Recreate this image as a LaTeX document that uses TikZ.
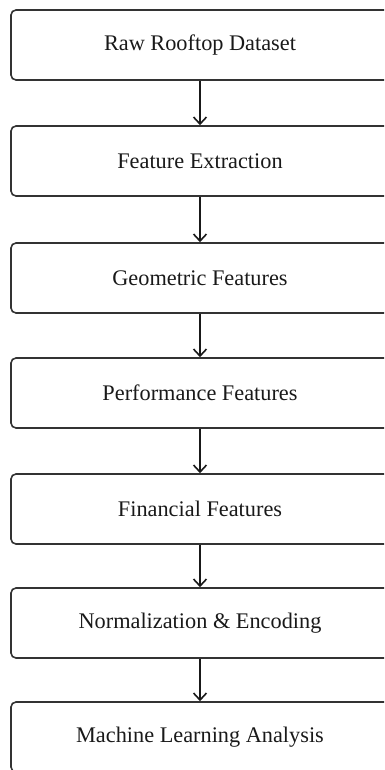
\documentclass[tikz,border=0pt]{standalone}
\usepackage{fontspec}
\setmainfont{Liberation Serif}
\usetikzlibrary{arrows.meta}
\begin{document}
\begin{tikzpicture}[x=1pt,y=-1pt,
  stage/.style={draw=black!80, line width=1.6pt, rounded corners=5pt, minimum width=378pt, minimum height=70pt, inner sep=0pt, text=black!90, font=\fontsize{22.3}{26}\selectfont},
  flow/.style={draw=black!90, line width=1.6pt, -{Straight Barb[length=7pt,width=13pt,line width=1.6pt]}}]
\useasboundingbox (0,0) rectangle (384,770);
\clip (0,0) rectangle (384,770);
\node[stage] (n1) at (200,45) {Raw Rooftop Dataset};
\node[stage] (n2) at (200,161) {Feature Extraction};
\node[stage] (n3) at (200,278) {Geometric Features};
\node[stage] (n4) at (200,393) {Performance Features};
\node[stage] (n5) at (200,509) {Financial Features};
\node[stage] (n6) at (200,623) {Normalization \& Encoding};
\node[stage] (n7) at (200,737) {Machine Learning Analysis};
\foreach \a/\b in {n1/n2,n2/n3,n3/n4,n4/n5,n5/n6,n6/n7}
  \draw[flow] (\a) -- (\b);
\end{tikzpicture}
\end{document}
